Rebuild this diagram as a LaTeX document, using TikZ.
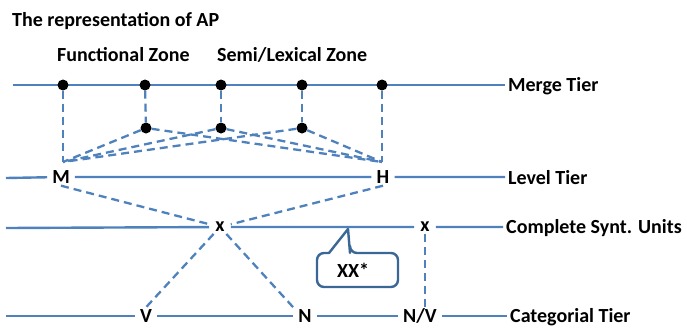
\documentclass[tikz,border=0pt]{standalone}
\usepackage{fontspec}
\setmainfont{Carlito}
\definecolor{tier}{RGB}{79,129,189}
\definecolor{callb}{RGB}{58,103,150}
\pgfdeclarelayer{bg}
\pgfsetlayers{bg,main}
\begin{document}
\begin{tikzpicture}[x=1pt,y=-1pt,
  tierline/.style={draw=tier,line width=2.4pt},
  link/.style={draw=tier,line width=2.3pt,dash pattern=on 8pt off 5pt},
  lab/.style={font=\fontsize{20}{24}\selectfont\bfseries,inner sep=0pt},
  tlab/.style={lab,anchor=base west,inner xsep=3pt},
  sym/.style={lab,text height=13pt,text depth=0pt,inner xsep=5pt,inner ysep=2pt},
  lsym/.style={lab,text height=9.5pt,text depth=0pt,inner xsep=6pt,inner ysep=2pt},
  dot/.style={circle,fill=black,inner sep=0pt,minimum size=11pt}]
\useasboundingbox (0,0) rectangle (687,327);

% texts
\node[lab,anchor=base west] (title) at (12,26) {The representation of AP};
\node[lab,anchor=base west] (fz) at (57,61.5) {Functional Zone};
\node[lab,anchor=base west] (sz) at (217,61.5) {Semi/Lexical Zone};

\node[tlab] (merge) at (505,91.5) {Merge Tier};
\node[tlab] (level) at (505,184.5) {Level Tier};
\node[tlab] (comp) at (503,233.5) {Complete Synt. Units};
\node[tlab] (cat) at (507,322.5) {Categorial Tier};

% dots
\node[dot] (d1) at (63,85) {};
\node[dot] (d2) at (145,85) {};
\node[dot] (d3) at (221,85) {};
\node[dot] (d4) at (302,85) {};
\node[dot] (d5) at (382,85) {};
\node[dot] (e1) at (146,128) {};
\node[dot] (e2) at (221,128) {};
\node[dot] (e3) at (302,128) {};
\coordinate (L) at (63,162);
\coordinate (R) at (382,162);

% symbols
\node[sym] (M) at (61,177) {M};
\node[sym] (H) at (383,177) {H};
\node[lsym] (x1) at (220,227) {x};
\node[lsym] (x2) at (425,227) {x};
\node[sym] (V) at (146,316) {V};
\node[sym] (N) at (305,316) {N};
\node[sym] (NV) at (420,316) {N/V};

\coordinate (m0) at (13,85);
\coordinate (l0) at (6,178);
\coordinate (c0) at (6,228);
\coordinate (k0) at (6,316);

\begin{pgfonlayer}{bg}
\draw[tierline] (m0) -- (merge.west |- m0);
\draw[tierline] (l0) -- (M) -- (H) -- (level.west |- H);
\draw[tierline] (c0) -- (x1) -- (x2) -- (comp.west |- x2);
\draw[tierline] (k0) -- (V) -- (N) -- (NV) -- (cat.west |- NV);

\draw[link] (d1) -- (L);
\draw[link] (d5) -- (R);
\draw[link] (d2) -- (e1);
\draw[link] (d3) -- (e2);
\draw[link] (d4) -- (e3);
\foreach \e in {e1,e2,e3} {
  \draw[link] (\e) -- (L);
  \draw[link] (\e) -- (R);
}
\draw[link] (M.south) -- (x1);
\draw[link] (H.south) -- (x1);
\draw[link] (x1) -- (V.north);
\draw[link] (x1) -- (N.north west);
\draw[link] (x2) -- (x2 |- NV.north);
\end{pgfonlayer}

% callout
\coordinate (tip) at (348,229);
\draw[callb,line width=2.4pt,fill=white,line join=round]
  (350,253) -- (tip) -- (329,253)
  [rounded corners=7pt] -- (317,253) -- (317,287) -- (398,287) -- (398,253) -- (350,253) [sharp corners] -- cycle;
\node[lab] (xx) at (353,270) {XX*};
\end{tikzpicture}
\end{document}
